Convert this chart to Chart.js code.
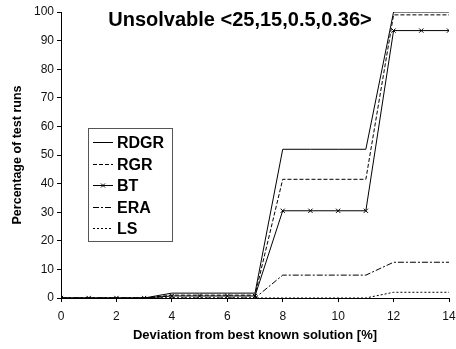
<!DOCTYPE html>
<html>
<head>
<meta charset="utf-8">
<script src="https://cdn.jsdelivr.net/npm/chart.js@4/dist/chart.umd.min.js"></script>
<style>
  html, body { margin: 0; padding: 0; background: #fff; }
  #wrap { position: relative; width: 456px; height: 349px; }
</style>
</head>
<body>
<div id="wrap"><canvas id="myChart" width="456" height="349"></canvas></div>
<script>
// deviation steps (%)
const deviation = [0, 1, 2, 3, 4, 5, 6, 7, 8, 9, 10, 11, 12, 13, 14];
const rdgr = [0, 0, 0, 0, 1.7, 1.7, 1.7, 1.7, 52, 52, 52, 52, 100, 100, 100];
const rgr  = [0, 0, 0, 0, 1, 1, 1, 1, 41.5, 41.5, 41.5, 41.5, 99, 99, 99];
const bt   = [0, 0, 0, 0, 0.7, 0.7, 0.7, 0.7, 30.5, 30.5, 30.5, 30.5, 93.5, 93.5, 93.5];
const era  = [0, 0, 0, 0, 0, 0, 0, 0, 8, 8, 8, 8, 12.5, 12.5, 12.5];
const ls   = [0, 0, 0, 0, 0, 0, 0, 0, 0, 0, 0, 0, 2, 2, 2];
const seriesNames = ['RDGR', 'RGR', 'BT', 'ERA', 'LS'];
const chartTitle = 'Unsolvable <25,15,0.5,0.36>';

const FONT = 'Arial, "Liberation Sans", sans-serif';

function pts(vals) {
  return vals.map((v, i) => ({ x: deviation[i], y: v }));
}

const styles = [
  { dash: [], point: false },
  { dash: [4, 2], point: false },
  { dash: [], point: true },
  { dash: [6, 2, 2, 2], point: false },
  { dash: [2, 2], point: false }
];

const datasets = [rdgr, rgr, bt, era, ls].map((vals, i) => ({
  label: seriesNames[i],
  data: pts(vals),
  borderColor: '#000',
  backgroundColor: '#000',
  borderWidth: 1,
  borderDash: styles[i].dash,
  pointStyle: 'crossRot',
  pointRadius: styles[i].point ? 3 : 0,
  pointBorderWidth: 1,
  tension: 0,
  fill: false
}));

// title inside the plot plus a boxed legend on the left
const overlay = {
  id: 'overlay',
  afterDraw(chart) {
    const ctx = chart.ctx;
    ctx.save();
    ctx.fillStyle = '#000';
    ctx.font = 'bold 20px ' + FONT;
    ctx.textAlign = 'center';
    ctx.textBaseline = 'middle';
    ctx.fillText(chartTitle, 240, 20);

    const bx = 88, by = 128, bw = 84, bh = 113;
    ctx.fillStyle = '#fff';
    ctx.fillRect(bx, by, bw, bh);
    ctx.strokeStyle = '#555';
    ctx.lineWidth = 1;
    ctx.setLineDash([]);
    ctx.strokeRect(bx + 0.5, by + 0.5, bw, bh);

    ctx.font = 'bold 16px ' + FONT;
    ctx.textAlign = 'left';
    const rowH = 21.5;
    datasets.forEach((ds, i) => {
      const y = Math.round(by + 14 + i * rowH) + 0.5;
      ctx.strokeStyle = '#000';
      ctx.setLineDash(ds.borderDash);
      ctx.beginPath();
      ctx.moveTo(93, y);
      ctx.lineTo(113, y);
      ctx.stroke();
      ctx.setLineDash([]);
      if (ds.pointRadius > 0) {
        ctx.beginPath();
        ctx.moveTo(101, y - 2); ctx.lineTo(105, y + 2);
        ctx.moveTo(105, y - 2); ctx.lineTo(101, y + 2);
        ctx.stroke();
      }
      ctx.fillStyle = '#000';
      ctx.fillText(ds.label, 117, y + 1);
    });
    ctx.restore();
  }
};

new Chart(document.getElementById('myChart'), {
  type: 'line',
  data: { datasets },
  options: {
    responsive: false,
    animation: false,
    layout: { padding: { top: 12, right: 7, left: 0, bottom: 0 } },
    plugins: {
      legend: { display: false },
      tooltip: { enabled: false }
    },
    scales: {
      x: {
        type: 'linear',
        min: 0,
        max: 14,
        afterFit(scale) {
          scale.height = 51;
          scale.paddingLeft = 0;
          scale.paddingRight = 0;
        },
        ticks: { stepSize: 2, color: '#111', padding: 7, maxRotation: 0, font: { family: FONT, size: 12 } },
        grid: { drawOnChartArea: false, drawTicks: true, tickLength: 4, color: '#000' },
        border: { display: true, color: '#000', width: 1 },
        title: { display: true, text: 'Deviation from best known solution [%]', color: '#000', padding: { top: 4, bottom: 6 }, font: { family: FONT, size: 13, weight: 'bold' } }
      },
      y: {
        min: 0,
        max: 100,
        afterFit(scale) {
          scale.width = 61;
          scale.paddingTop = 0;
          scale.paddingBottom = 0;
        },
        ticks: { stepSize: 10, color: '#111', padding: 3, font: { family: FONT, size: 12 } },
        grid: { drawOnChartArea: false, drawTicks: true, tickLength: 4, color: '#000' },
        border: { display: true, color: '#000', width: 1 },
        title: { display: true, text: 'Percentage of test runs', color: '#000', padding: { top: 10, bottom: 0 }, font: { family: FONT, size: 12.5, weight: 'bold' } }
      }
    }
  },
  plugins: [overlay]
});
</script>
</body>
</html>
